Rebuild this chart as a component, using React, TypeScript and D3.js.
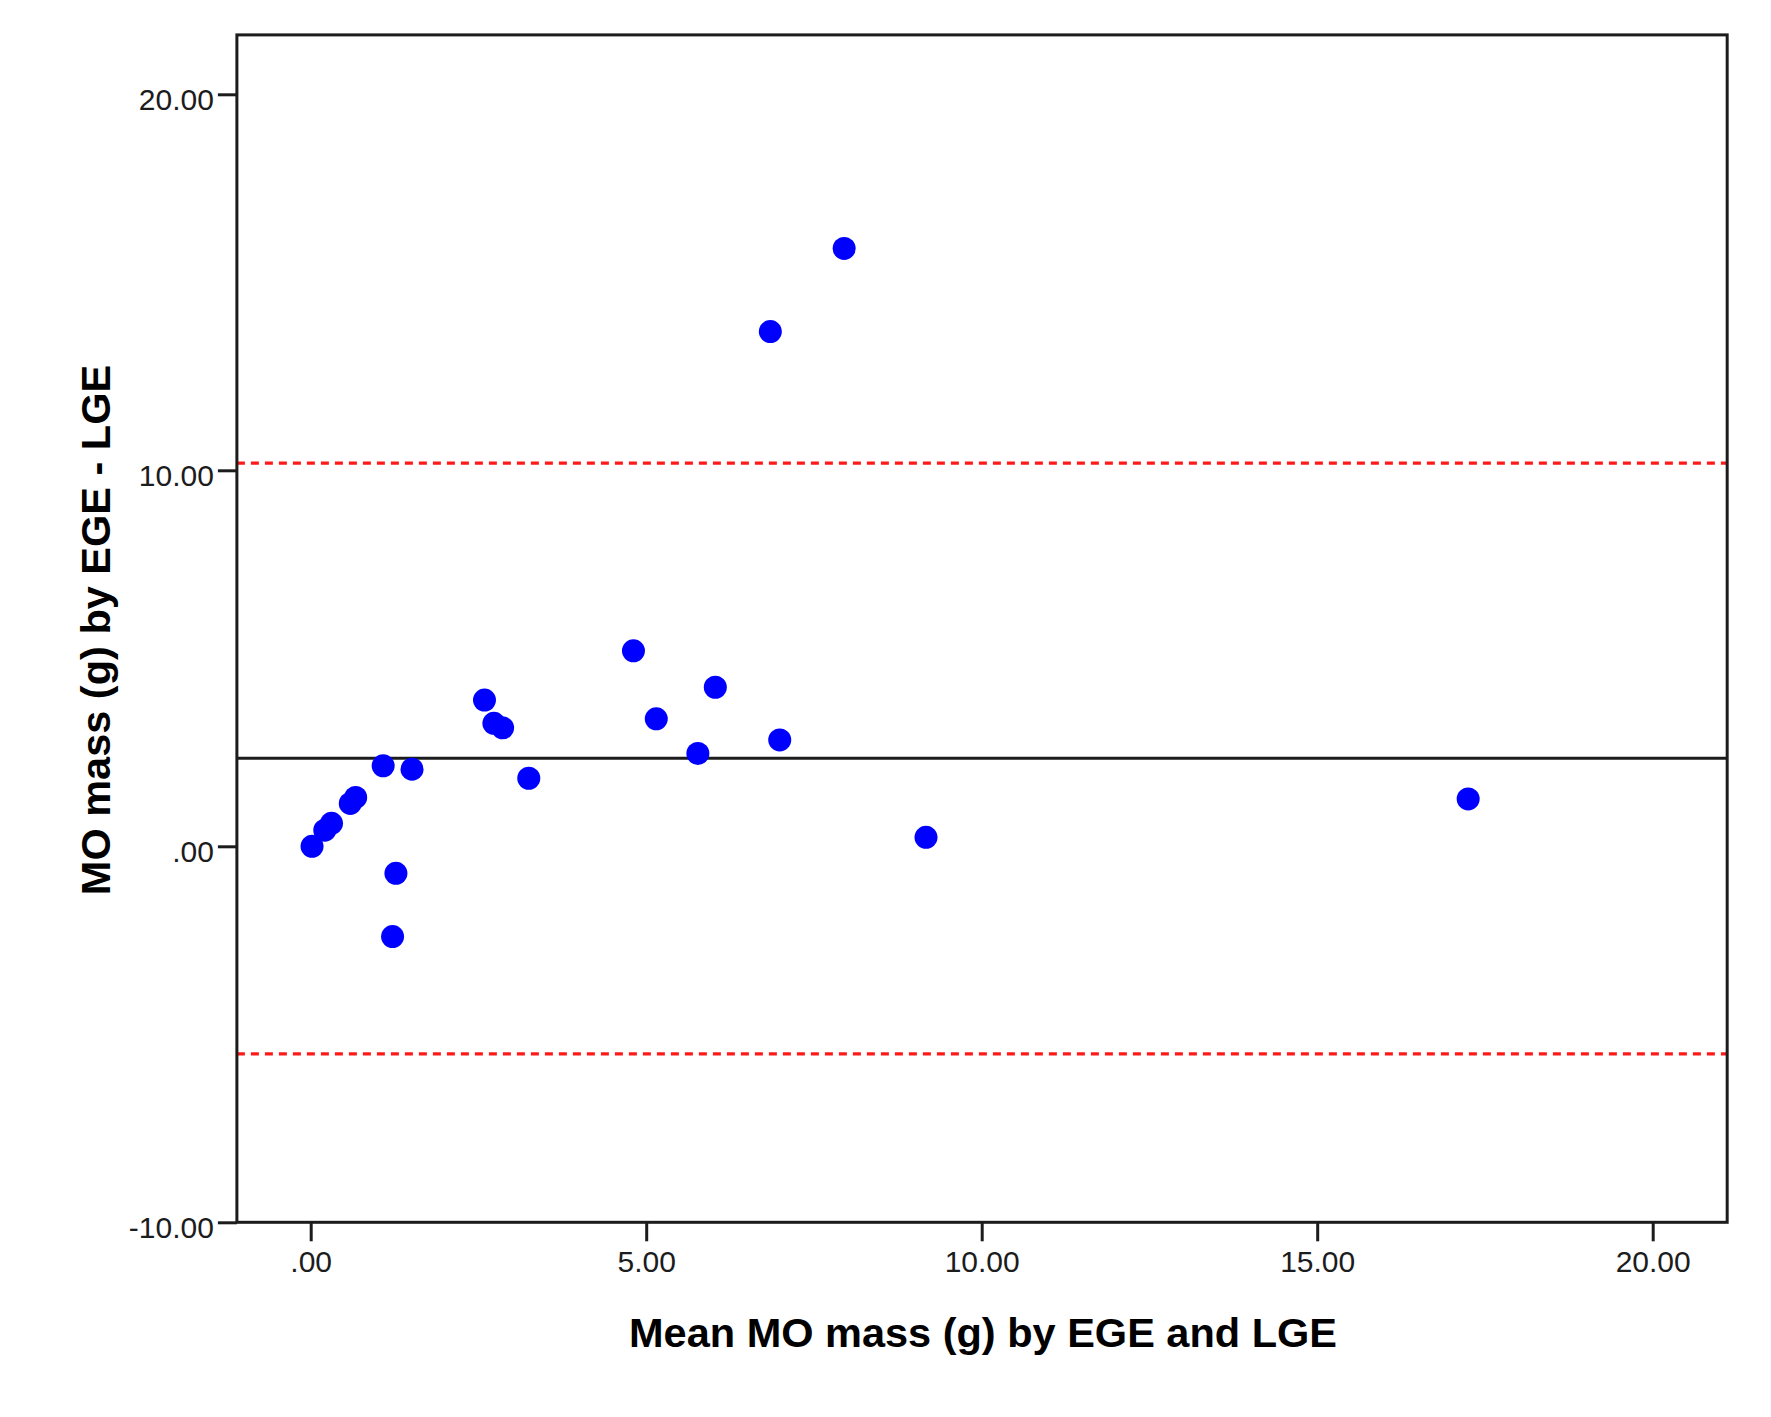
import * as d3 from "d3";
import { useEffect, useRef } from "react";

const width = 1771;
const height = 1417;

// mean of the two methods (x) and their difference (y)
const meanMass = [
  0.02, 0.21, 0.31, 0.59, 0.67, 1.08, 1.51, 1.27, 1.22, 2.59, 2.73, 2.86,
  3.25, 4.81, 5.15, 5.77, 6.03, 6.99, 6.85, 7.95, 9.17, 17.25,
];
const diffMass = [
  0.0, 0.43, 0.61, 1.14, 1.3, 2.14, 2.05, -0.72, -2.4, 3.89, 3.27, 3.15,
  1.81, 5.2, 3.39, 2.47, 4.23, 2.83, 13.69, 15.9, 0.24, 1.26,
];

const meanDiff = 2.34;
const upperLimit = 10.19;
const lowerLimit = -5.52;

const xTicks = [0, 5, 10, 15, 20];
const yTicks = [-10, 0, 10, 20];

const xTitle = "Mean MO mass (g) by EGE and LGE";
const yTitle = "MO mass (g) by EGE - LGE";

const font = "'Liberation Sans', Arial, sans-serif";
const ink = "#1c1c1c";

// SPSS style: ".00", "10.00", "-10.00" (plain hyphen, no leading zero)
const fmt = (v: number) =>
  d3
    .format(".2f")(v)
    .replace(/\u2212/g, "-")
    .replace(/^0\./, ".")
    .replace(/^-0\./, "-.");

export default function App() {
  const ref = useRef<SVGSVGElement | null>(null);

  useEffect(() => {
    const svg = d3.select(ref.current);
    svg.selectAll("*").remove();

    const x = d3.scaleLinear().domain([0, 20]).range([310.7, 1652.7]);
    const y = d3.scaleLinear().domain([-10, 20]).range([1222.3, 94.3]);

    const left = x(-1.1);
    const right = x(21.11);
    const top = y(21.58);
    const bottom = y(-10);

    svg
      .append("rect")
      .attr("width", width)
      .attr("height", height)
      .attr("fill", "white");

    // reference lines
    const refLine = (v: number, color: string, dashed: boolean) =>
      svg
        .append("line")
        .attr("x1", left)
        .attr("x2", right)
        .attr("y1", y(v))
        .attr("y2", y(v))
        .attr("stroke", color)
        .attr("stroke-width", dashed ? 3.2 : 3)
        .attr("stroke-dasharray", dashed ? "8 6" : null);

    refLine(upperLimit, "#ff1a1a", true);
    refLine(lowerLimit, "#ff1a1a", true);
    refLine(meanDiff, ink, false);

    // points
    svg
      .append("g")
      .selectAll("circle")
      .data(meanMass.map((m, i) => [m, diffMass[i]]))
      .join("circle")
      .attr("cx", (d) => x(d[0]))
      .attr("cy", (d) => y(d[1]))
      .attr("r", 11.5)
      .attr("fill", "#0000ff");

    // frame
    svg
      .append("rect")
      .attr("x", left)
      .attr("y", top)
      .attr("width", right - left)
      .attr("height", bottom - top)
      .attr("fill", "none")
      .attr("stroke", ink)
      .attr("stroke-width", 3);

    const styleAxis = (g: d3.Selection<SVGGElement, unknown, null, undefined>) => {
      g.select(".domain").remove();
      g.selectAll(".tick line").attr("stroke", ink).attr("stroke-width", 3);
      g.selectAll(".tick text")
        .attr("fill", ink)
        .style("font-family", font)
        .style("font-size", "30px");
    };

    const gx = svg
      .append("g")
      .attr("transform", `translate(0,${bottom})`)
      .call(
        d3
          .axisBottom(x)
          .tickValues(xTicks)
          .tickFormat((d) => fmt(+d))
          .tickSize(19)
          .tickPadding(9),
      );
    styleAxis(gx);

    const gy = svg
      .append("g")
      .attr("transform", `translate(${left},0)`)
      .call(
        d3
          .axisLeft(y)
          .tickValues(yTicks)
          .tickFormat((d) => fmt(+d))
          .tickSize(19)
          .tickPadding(4),
      );
    styleAxis(gy);
    gy.selectAll(".tick text").attr("dy", "0.52em");

    // axis titles
    svg
      .append("text")
      .attr("x", 983)
      .attr("y", 1347)
      .attr("text-anchor", "middle")
      .attr("fill", "black")
      .style("font-family", font)
      .style("font-weight", "bold")
      .style("font-size", "41.5px")
      .text(xTitle);

    svg
      .append("text")
      .attr("transform", `translate(110,630) rotate(-90)`)
      .attr("text-anchor", "middle")
      .attr("fill", "black")
      .style("font-family", font)
      .style("font-weight", "bold")
      .style("font-size", "41.5px")
      .text(yTitle);
  }, []);

  return (
    <svg
      ref={ref}
      width={width}
      height={height}
      style={{ position: "absolute", left: 0, top: 0, display: "block" }}
    />
  );
}
